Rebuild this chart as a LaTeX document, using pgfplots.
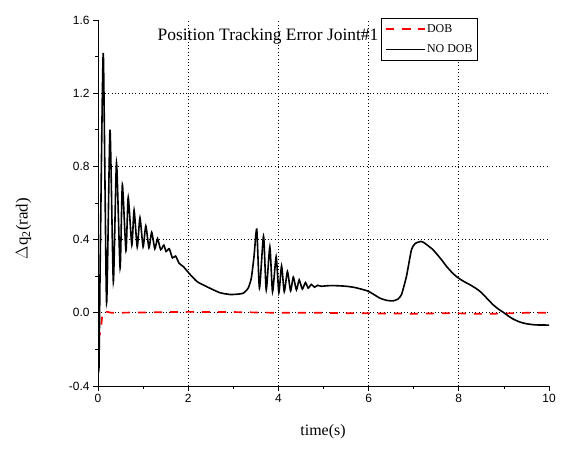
\documentclass[border=0pt]{standalone}
\usepackage{pgfplots}
\pgfplotsset{compat=1.18}
\usepackage{fontspec}
\setmainfont{Liberation Serif}
\newfontfamily\arialfont{Liberation Sans}

\begin{document}
\begin{tikzpicture}[x=1bp,y=1bp]
\useasboundingbox (0,0) rectangle (565,450);
\begin{axis}[
  at={(98bp,64bp)}, anchor=south west,
  scale only axis, width=451bp, height=366bp,
  xmin=0, xmax=10, ymin=-0.4, ymax=1.6,
  axis lines=left,
  axis line style={-, black, line width=0.9bp},
  xtick={0,2,4,6,8,10}, xticklabels={0,2,4,6,8,10},
  ytick={-0.4,0,0.4,0.8,1.2,1.6},
  yticklabels={-0.4,0.0,0.4,0.8,1.2,1.6},
  minor x tick num=1, minor y tick num=1,
  tick align=outside,
  major tick length=5bp, minor tick length=3bp,
  tick style={black, line width=0.8bp},
  ticklabel style={font=\arialfont\fontsize{12}{14}\selectfont},
  major grid style={black, line width=0.7bp, dash pattern=on 1bp off 2.4bp},
  extra x ticks={2,4,6,8}, extra x tick labels={},
  extra y ticks={0,0.4,0.8,1.2}, extra y tick labels={},
  extra tick style={grid=major},
  title={Position Tracking Error Joint\#1},
  title style={at={(0.377,0.94)}, anchor=center, font=\fontsize{17.5}{19}\selectfont},
  xlabel={time(s)},
  xlabel style={at={(axis description cs:0.499,-0.126)}, anchor=center, font=\fontsize{16}{18}\selectfont},
  ylabel={$\Delta$q\textsubscript{2}(rad)},
  ylabel style={at={(axis description cs:-0.165,0.43)}, anchor=center, font=\fontsize{17}{19}\selectfont},
  legend style={at={(0.6275,1.006)}, anchor=north west, draw=black, line width=0.8bp,
    fill=white, font=\fontsize{12}{13}\selectfont, row sep=9bp,
    inner xsep=4bp, inner ysep=5bp, nodes={inner sep=1bp}},
  legend cell align=left,
]
% joint 1 tracking error with the disturbance observer
\addplot[red, line width=1.7bp, dash pattern=on 8bp off 8bp,
  legend image code/.code={
    \draw[red, line width=1.7bp] (0bp,0bp) -- (8bp,0bp) (17bp,0bp) -- (26bp,0bp);
    \path (0bp,0bp) -- (39bp,0bp);}] coordinates {
  (0,-0.15) (0.06,-0.10) (0.10,0.0) (0.15,0.008) (0.30,0.0) (1.0,0.002)
  (2.0,0.005) (3.0,0.004) (4.0,0.0) (5.0,0.0) (5.5,-0.002) (6.0,-0.003)
  (6.5,-0.004) (7.0,-0.005) (7.5,-0.003) (8.0,-0.003) (8.5,-0.006)
  (9.0,-0.004) (9.5,0.0) (10.0,0.0)
};
\addlegendentry{DOB}
% joint 1 tracking error without the observer
\addplot[black, line width=1.6bp, smooth, tension=0.35,
  legend image code/.code={\draw[black, line width=1.3bp] (0bp,0bp) -- (39bp,0bp);}] coordinates {
  (0.000,0.00) (0.020,-0.31) (0.050,0.30) (0.117,1.42)
  (0.19,0.055) (0.266,1.00) (0.34,0.17) (0.41,0.82) (0.49,0.245)
  (0.54,0.70) (0.62,0.34) (0.67,0.63) (0.75,0.37) (0.80,0.56)
  (0.87,0.36) (0.93,0.52) (1.00,0.36) (1.06,0.475) (1.13,0.355)
  (1.19,0.44) (1.26,0.35) (1.32,0.405) (1.39,0.345) (1.46,0.37)
  (1.51,0.335) (1.58,0.35) (1.65,0.30) (1.72,0.31) (1.80,0.27)
  (1.89,0.253) (2.04,0.21) (2.2,0.17) (2.4,0.144) (2.7,0.11)
  (2.93,0.10) (3.1,0.102) (3.22,0.107) (3.33,0.135) (3.40,0.19)
  (3.46,0.31) (3.52,0.457) (3.58,0.135) (3.67,0.42) (3.73,0.125)
  (3.81,0.36) (3.87,0.115) (3.95,0.306) (4.01,0.11) (4.07,0.257)
  (4.13,0.115) (4.20,0.226) (4.27,0.12) (4.33,0.195) (4.40,0.125)
  (4.46,0.18) (4.53,0.13) (4.60,0.165) (4.66,0.135) (4.73,0.155)
  (4.80,0.14) (4.87,0.15) (4.95,0.145) (5.1,0.148) (5.3,0.148)
  (5.5,0.145) (5.7,0.138) (5.9,0.125) (6.0,0.117) (6.15,0.095)
  (6.25,0.08) (6.4,0.068) (6.54,0.065) (6.65,0.075) (6.73,0.10)
  (6.84,0.20) (6.95,0.345) (7.03,0.378) (7.10,0.386) (7.16,0.39)
  (7.21,0.386) (7.30,0.37) (7.43,0.344) (7.60,0.295) (7.73,0.253)
  (7.87,0.215) (7.99,0.19) (8.12,0.17) (8.25,0.153) (8.37,0.135)
  (8.47,0.117) (8.60,0.085) (8.76,0.044) (8.88,0.02) (8.99,0.002)
  (9.10,-0.018) (9.21,-0.035) (9.35,-0.05) (9.50,-0.06) (9.70,-0.066)
  (9.94,-0.067) (10.0,-0.067)
};
\addlegendentry{NO DOB}
\end{axis}
\end{tikzpicture}
\end{document}
